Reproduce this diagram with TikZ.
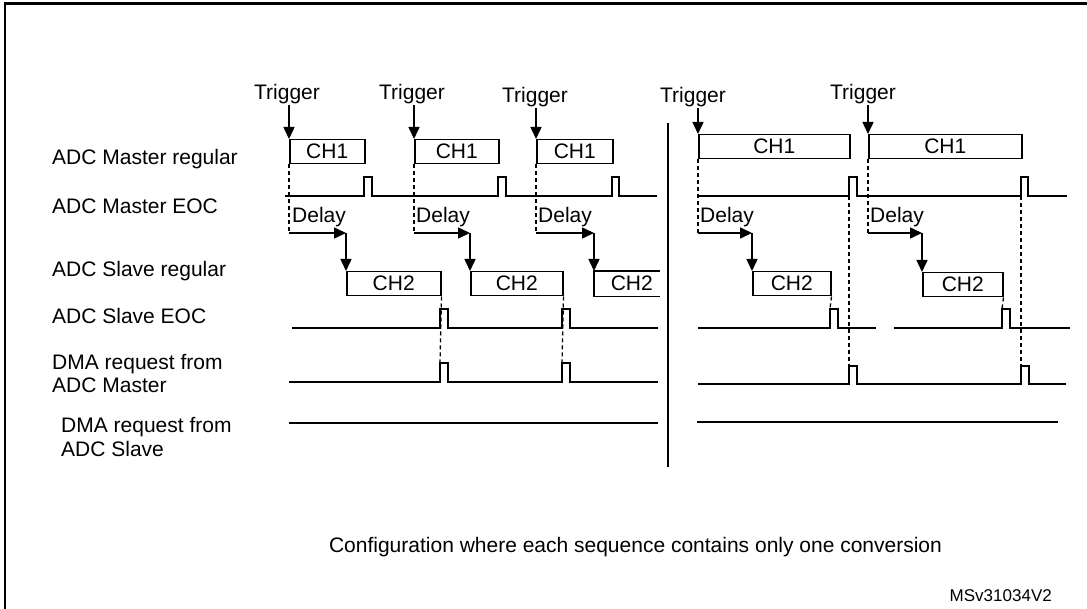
\documentclass[tikz,border=0pt]{standalone}
\usepackage{fontspec}
\setmainfont{Liberation Sans}
\usetikzlibrary{calc,arrows.meta}

\begin{document}
\begin{tikzpicture}[x=1pt, y=-1pt,
    every node/.style={font=\fontsize{21}{24}\selectfont, inner sep=0pt},
    lbl/.style={anchor=base west, align=left},
    trig/.style={anchor=base},
    conv/.style={draw, line width=1.5pt, minimum height=24pt, anchor=north west},
    wave/.style={line width=1.5pt},
    guide/.style={line width=1.3pt, dash pattern=on 4pt off 3pt},
    arr/.style={line width=1.5pt, -{Triangle[length=12pt, width=11pt]}}]
      \useasboundingbox (0,0) rectangle (1087,609);
      \draw[line width=2.5pt] (5,609) -- (5,3.5) -- (1087,3.5);
      \node[lbl] (l1) at (52,165) {ADC Master regular};
      \node[lbl] (l2) at (52,214) {ADC Master EOC};
      \node[lbl] (l3) at (52,277) {ADC Slave regular};
      \node[lbl] (l4) at (52,324) {ADC Slave EOC};
      \node[lbl] (l5) at (52,393) {DMA request from\\ADC Master};
      \node[lbl] (l6) at (61,456) {DMA request from\\ADC Slave};
      \node[trig] (t1) at (287,100) {Trigger};
      \node[trig] (t2) at (412,100) {Trigger};
      \node[trig] (t3) at (535,103) {Trigger};
      \node[trig] (t4) at (693,103) {Trigger};
      \node[trig] (t5) at (863,100) {Trigger};
      \node[conv, minimum width=75pt] (m1) at (289,139) {CH1};
      \node[conv, minimum width=84pt] (m2) at (414,139) {CH1};
      \node[conv, minimum width=76pt] (m3) at (536,139) {CH1};
      \node[conv, minimum width=151pt] (m4) at (698,134) {CH1};
      \node[conv, minimum width=153pt] (m5) at (868,134) {CH1};
      \node[conv, minimum width=94pt] (s1) at (346,271) {CH2};
      \node[conv, minimum width=92pt] (s2) at (470,271) {CH2};
      \node[conv, draw=none, minimum width=74pt] (s3) at (594,271) {CH2};
      \node[conv, minimum width=78pt] (s4) at (752,271) {CH2};
      \node[conv, minimum width=80pt] (s5) at (922,272) {CH2};
      \draw[wave] ($(s3.north east) - (10, 0)$) -- (s3.north west) -- (s3.south west) -- ($(s3.south east) - (10, 0)$);
      \path[arr] (t1.south -| m1.north west) edge (m1.north west);
      \path[arr] (t2.south -| m2.north west) edge (m2.north west);
      \path[arr] (t3.south -| m3.north west) edge (m3.north west);
      \path[arr] (t4.south -| m4.north west) edge (m4.north west);
      \path[arr] (t5.south -| m5.north west) edge (m5.north west);
      \coordinate (d1) at (289,233);
      \coordinate (d2) at (414,233);
      \coordinate (d3) at (536,233);
      \coordinate (d4) at (698,233);
      \coordinate (d5) at (868,233);
      \node[anchor=base west] (y1) at (292,223) {Delay};
      \node[anchor=base west] (y2) at (416,223) {Delay};
      \node[anchor=base west] (y3) at (538,223) {Delay};
      \node[anchor=base west] (y4) at (700,223) {Delay};
      \node[anchor=base west] (y5) at (870,223) {Delay};
      \path[guide] (m1.south west) edge (d1) (m2.south west) edge (d2) (m3.south west) edge (d3)
        (m4.south west) edge (d4) (m5.south west) edge (d5);
      \path[arr] (d1) edge (d1 -| s1.north west) (d1 -| s1.north west) edge (s1.north west);
      \path[arr] (d2) edge (d2 -| s2.north west) (d2 -| s2.north west) edge (s2.north west);
      \path[arr] (d3) edge (d3 -| s3.north west) (d3 -| s3.north west) edge (s3.north west);
      \path[arr] (d4) edge (d4 -| s4.north west) (d4 -| s4.north west) edge (s4.north west);
      \path[arr] (d5) edge (d5 -| s5.north west) (d5 -| s5.north west) edge (s5.north west);
      \draw[wave] (285,196) -- (364,196) -- ++(0,-19) -- ++(8,0) -- ++(0,19) -- (498,196) -- ++(0,-19) -- ++(8,0) -- ++(0,19)
        -- (612,196) -- ++(0,-19) -- ++(7,0) -- ++(0,19) -- (657,196);
      \draw[wave] (698,196) -- (849,196) -- ++(0,-19) -- ++(8,0) -- ++(0,19) -- (1021,196) -- ++(0,-19) -- ++(7,0) -- ++(0,19) -- (1067,196);
      \draw[wave] (292,328) -- (440,328) -- ++(0,-19) -- ++(8,0) -- ++(0,19) -- (562,328) -- ++(0,-19) -- ++(8,0) -- ++(0,19) -- (658,328);
      \draw[wave] (698,328) -- (830,328) -- ++(0,-19) -- ++(8,0) -- ++(0,19) -- (876,328)
        (894,328) -- (1002,328) -- ++(0,-19) -- ++(8,0) -- ++(0,19) -- (1070,328);
      \draw[wave] (289,382) -- (440,382) -- ++(0,-19) -- ++(8,0) -- ++(0,19) -- (562,382) -- ++(0,-19) -- ++(8,0) -- ++(0,19) -- (658,382);
      \draw[wave] (698,384) -- (849,384) -- ++(0,-18) -- ++(8,0) -- ++(0,18) -- (1021,384) -- ++(0,-18) -- ++(8,0) -- ++(0,18) -- (1066,384);
      \draw[wave] (289,423) -- (658,423) (697,422) -- (1058,422);
      \coordinate (e4) at (849,196);
      \coordinate (e5) at (1021,196);
      \coordinate (q4) at (830,309);
      \coordinate (q5) at (1002,309);
      \coordinate (r1) at (440,363);
      \coordinate (r2) at (562,363);
      \coordinate (r4) at (849,366);
      \coordinate (r5) at (1021,366);
      \path[guide] (s1.south east) edge (r1) (s2.south east) edge (r2) (s4.south east) edge (q4) (s5.south east) edge (q5)
        (e4) edge (r4) (e5) edge (r5);
      \draw[line width=2.5pt] (668,123) -- (668,467);
      \node[anchor=base] (cap) at (635.5,552) {Configuration where each sequence contains only one conversion};
      \node[anchor=base east, font=\fontsize{17}{20}\selectfont] (tag) at (1052,601) {MSv31034V2};
    \end{tikzpicture}
\end{document}
